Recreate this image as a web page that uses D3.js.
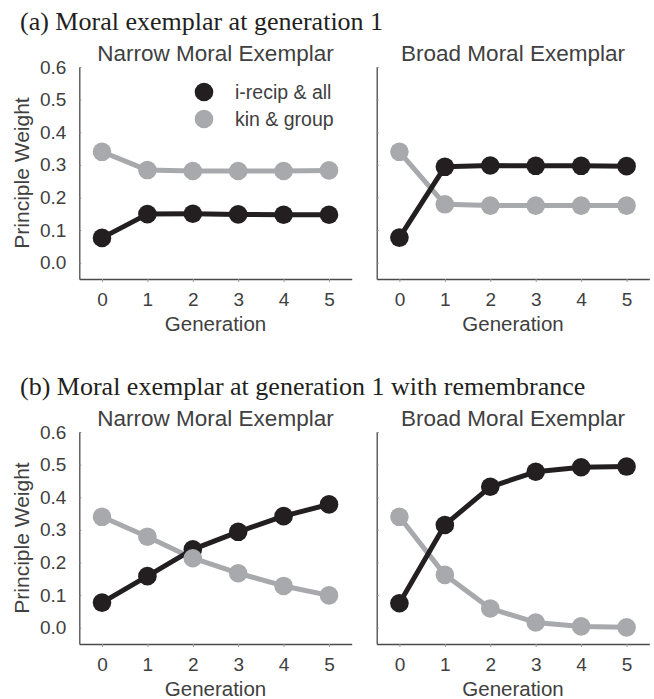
<!DOCTYPE html>
<html>
<head>
<meta charset="utf-8">
<script src="https://cdn.jsdelivr.net/npm/d3@7"></script>
<style>
  html, body { margin: 0; padding: 0; background: #fff; }
  svg { display: block; }
</style>
</head>
<body>
<svg id="chart" width="654" height="699"></svg>
<script>
// ---- data ----
const generations = [0, 1, 2, 3, 4, 5];
const yTicks = [0.0, 0.1, 0.2, 0.3, 0.4, 0.5, 0.6];
const panelTitles = ["(a) Moral exemplar at generation 1", "(b) Moral exemplar at generation 1 with remembrance"];
const subplotTitles = ["Narrow Moral Exemplar", "Broad Moral Exemplar"];
const seriesNames = ["i-recip & all", "kin & group"];

// panel (a)
const aNarrowRecip = [0.076, 0.149, 0.150, 0.148, 0.147, 0.147];
const aNarrowKin   = [0.340, 0.284, 0.281, 0.281, 0.281, 0.283];
const aBroadRecip  = [0.077, 0.294, 0.298, 0.297, 0.297, 0.296];
const aBroadKin    = [0.340, 0.179, 0.175, 0.175, 0.175, 0.175];
// panel (b)
const bNarrowRecip = [0.077, 0.158, 0.240, 0.294, 0.342, 0.378];
const bNarrowKin   = [0.340, 0.279, 0.213, 0.167, 0.128, 0.099];
const bBroadRecip  = [0.075, 0.315, 0.432, 0.478, 0.492, 0.494];
const bBroadKin    = [0.340, 0.162, 0.059, 0.016, 0.004, 0.001];

const panels = [
  { title: panelTitles[0], plots: [
      { title: subplotTitles[0], recip: aNarrowRecip, kin: aNarrowKin, legend: true },
      { title: subplotTitles[1], recip: aBroadRecip, kin: aBroadKin, legend: false } ] },
  { title: panelTitles[1], plots: [
      { title: subplotTitles[0], recip: bNarrowRecip, kin: bNarrowKin, legend: false },
      { title: subplotTitles[1], recip: bBroadRecip, kin: bBroadKin, legend: false } ] }
];

// ---- style ----
const BLACK = "#231f20", GRAY = "#a7a9ac", TEXT = "#404040", AXIS = "#4a4a4a";
const SANS = "'Liberation Sans', Arial, Helvetica, sans-serif";
const SERIF = "'Liberation Serif', 'Times New Roman', serif";

const svg = d3.select("#chart");
const panelOffset = 365;
const plotX = [[79.3, 351.7], [376.7, 649.3]];

panels.forEach((panel, pi) => {
  const oy = pi * panelOffset;
  const g = svg.append("g").attr("transform", `translate(0,${oy})`);
  const y = d3.scaleLinear().domain([-0.05, 0.6]).range([279, 67]);

  g.append("text").attr("x", 20).attr("y", 30)
    .attr("font-family", SERIF).attr("font-size", 26).attr("fill", BLACK)
    .text(panel.title);

  panel.plots.forEach((pl, si) => {
    const x = d3.scaleLinear().domain([-0.5, 5.5]).range(plotX[si]);
    const cx = (plotX[si][0] + plotX[si][1]) / 2;
    const pg = g.append("g");

    // subplot title
    pg.append("text").attr("x", cx).attr("y", 61).attr("text-anchor", "middle")
      .attr("font-family", SANS).attr("font-size", 22.5)
      .attr("fill", TEXT).text(pl.title);

    // y axis
    const yAxis = d3.axisLeft(y).tickValues(yTicks).tickSizeInner(-2).tickSizeOuter(0)
      .tickPadding(13).tickFormat(si === 0 ? d3.format(".1f") : () => "");
    const ya = pg.append("g").attr("transform", `translate(${plotX[si][0]},0)`).call(yAxis);
    ya.select(".domain").attr("stroke", AXIS).attr("stroke-width", 1.3);
    ya.selectAll(".tick line").attr("stroke", "#888").attr("stroke-width", 1);
    ya.selectAll(".tick text").attr("font-family", SANS).attr("font-size", 19).attr("fill", TEXT);

    // x axis
    const xAxis = d3.axisBottom(x).tickValues(generations).tickSizeInner(3).tickSizeOuter(0)
      .tickPadding(11).tickFormat(d3.format("d"));
    const xa = pg.append("g").attr("transform", `translate(0,279)`).call(xAxis);
    xa.select(".domain").attr("stroke", AXIS).attr("stroke-width", 1.3);
    xa.selectAll(".tick line").attr("stroke", "#999").attr("stroke-width", 1);
    xa.selectAll(".tick text").attr("font-family", SANS).attr("font-size", 19).attr("fill", TEXT);

    // axis labels
    pg.append("text").attr("x", cx).attr("y", 330.5).attr("text-anchor", "middle")
      .attr("font-family", SANS).attr("font-size", 20.5)
      .attr("fill", TEXT).text("Generation");
    if (si === 0) {
      pg.append("text").attr("transform", `translate(29,173) rotate(-90)`)
        .attr("text-anchor", "middle").attr("font-family", SANS).attr("font-size", 21)
        .attr("fill", TEXT).text("Principle Weight");
    }

    const line = d3.line().x((d, i) => x(generations[i])).y(d => y(d));
    pg.append("path").datum(pl.kin).attr("d", line).attr("fill", "none")
      .attr("stroke", GRAY).attr("stroke-width", 5).attr("stroke-linejoin", "round");
    pg.append("path").datum(pl.recip).attr("d", line).attr("fill", "none")
      .attr("stroke", BLACK).attr("stroke-width", 5).attr("stroke-linejoin", "round");
    pg.selectAll(".dr").data(pl.recip).enter().append("circle")
      .attr("cx", (d, i) => x(generations[i])).attr("cy", d => y(d)).attr("r", 9.3).attr("fill", BLACK);
    pg.selectAll(".dk").data(pl.kin).enter().append("circle")
      .attr("cx", (d, i) => x(generations[i])).attr("cy", d => y(d)).attr("r", 9.3).attr("fill", GRAY);

    if (pl.legend) {
      const lg = pg.append("g");
      [BLACK, GRAY].forEach((c, k) => {
        lg.append("circle").attr("cx", 204).attr("cy", 92 + k * 27).attr("r", 9.3).attr("fill", c);
        lg.append("text").attr("x", 235).attr("y", 99 + k * 27)
          .attr("font-family", SANS).attr("font-size", 19.5)
          .attr("fill", TEXT).text(seriesNames[k]);
      });
    }
  });
});
</script>
</body>
</html>
